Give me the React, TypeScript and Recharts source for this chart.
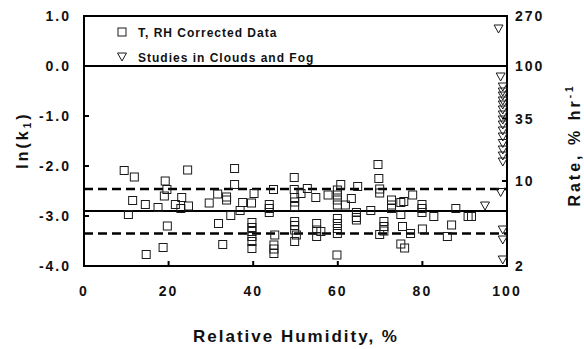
import React from 'react';
import { ScatterChart, Scatter, XAxis, YAxis, ReferenceLine, ReferenceArea } from 'recharts';

// axes
const xTicks = [0, 20, 40, 60, 80, 100];
const lnTicks = [1, 0, -1, -2, -3, -4];
const rateLabels = ['270', '100', '35', '10', '2'];
const rateTickPos = [1.0, 0.0, -1.05, -2.3, -4.0];

// T, RH corrected data (RH %, ln k1)
const corrRH = [
  9.5, 11.9, 19.2, 24.5, 19.6, 19.0, 11.5, 14.5, 17.5, 23.1, 21.6, 22.9, 24.7, 10.5, 19.7, 18.7, 14.7,
  35.6, 49.7, 35.6, 31.6, 33.7, 33.7, 40.2, 44.8, 49.7, 29.6, 37.5, 39.6, 43.8, 43.8, 43.8,
  49.8, 49.8, 49.8, 36.9, 34.7, 31.8, 39.7, 39.7, 39.7, 39.7, 39.7, 39.7,
  49.8, 49.8, 49.8, 49.8, 50.2, 45.1, 44.9, 44.9, 44.9, 32.8,
  52.8, 54.8, 51.3, 57.7, 60.7, 59.9, 59.9, 59.9, 59.9, 63.2, 61.8, 64.7,
  69.5, 69.7, 69.9, 69.9, 72.7, 72.7, 72.7, 74.9, 67.8, 64.4, 64.4, 64.4,
  55.0, 55.0, 55.0, 56.0, 59.9, 59.9, 59.9, 59.9, 70.9, 70.9, 70.9, 69.9,
  74.9, 75.8, 59.8, 74.9, 77.7, 75.6, 79.9, 79.9, 79.9, 82.7, 87.9, 90.8, 91.6,
  75.3, 77.2, 80.0, 86.9, 85.9,
];
const corrLnK = [
  -2.09, -2.22, -2.3, -2.08, -2.47, -2.6, -2.69, -2.77, -2.83, -2.63, -2.77, -2.85, -2.8, -2.97, -3.2, -3.63, -3.77,
  -2.05, -2.23, -2.37, -2.56, -2.62, -2.68, -2.55, -2.47, -2.47, -2.74, -2.73, -2.74, -2.77, -2.85, -2.93,
  -2.63, -2.72, -2.81, -2.89, -2.99, -3.15, -3.13, -3.23, -3.31, -3.41, -3.51, -3.65,
  -3.11, -3.19, -3.28, -3.51, -3.38, -3.38, -3.58, -3.66, -3.75, -3.57,
  -2.45, -2.63, -2.55, -2.58, -2.37, -2.48, -2.58, -2.68, -2.78, -2.65, -2.78, -2.41,
  -1.97, -2.25, -2.46, -2.54, -2.68, -2.78, -2.85, -2.73, -2.89, -2.93, -3.03, -3.08,
  -3.15, -3.28, -3.41, -3.31, -3.05, -3.15, -3.25, -3.35, -3.11, -3.21, -3.3, -3.37,
  -3.56, -3.64, -3.78, -2.97, -2.58, -2.71, -2.77, -2.85, -2.93, -3.01, -2.85, -3.01, -3.01,
  -3.21, -3.35, -3.26, -3.18, -3.41,
];

// studies in clouds and fog
const fogRH = [98, 98.5, 99, 99, 99, 99, 99, 99, 99, 99, 99, 99, 99, 99, 99, 99, 99, 98.5, 94.8, 99, 99, 99];
const fogLnK = [
  0.74, -0.22, -0.42, -0.52, -0.6, -0.7, -0.78, -0.88, -0.98, -1.08, -1.18, -1.3, -1.42, -1.55, -1.68, -1.8, -1.92,
  -2.53, -2.8, -3.28, -3.48, -3.88,
];

const meanLnK = -2.9;
const bandLnK = [-2.46, -3.35];

const corrData = corrRH.map((x, i) => ({ x, y: corrLnK[i] }));
const fogData = fogRH.map((x, i) => ({ x, y: fogLnK[i] }));

const FONT = '"Liberation Sans", Arial, Helvetica, sans-serif';

const Square = (p: any) => (
  <rect x={p.cx - 4} y={p.cy - 4} width={8} height={8} fill="none" stroke="#1a1a1a" strokeWidth={1} />
);

const Tri = (p: any) => (
  <path
    d={`M${p.cx - 4.5},${p.cy - 4} L${p.cx + 4.5},${p.cy - 4} L${p.cx},${p.cy + 4} Z`}
    fill="none"
    stroke="#1a1a1a"
    strokeWidth={1}
  />
);

const XTick = ({ x, y, payload }: any) => (
  <g>
    {payload.value > 0 && payload.value < 100 && (
      <line x1={x} x2={x} y1={y} y2={y - 5} stroke="#000" strokeWidth={2} />
    )}
    <text x={x} y={y + 30} textAnchor="middle" fontFamily={FONT} fontWeight="bold" fontSize={14} letterSpacing={2} fill="#111">
      {payload.value}
    </text>
  </g>
);

const LeftTick = ({ x, y, payload }: any) => (
  <g>
    <line x1={x} x2={x + 5} y1={y} y2={y} stroke="#000" strokeWidth={2} />
    <text x={x - 13} y={y + 5} textAnchor="end" fontFamily={FONT} fontWeight="bold" fontSize={14} letterSpacing={2} fill="#111">
      {Number(payload.value).toFixed(1)}
    </text>
  </g>
);

const RightTick = ({ x, y, payload }: any) => (
  <g>
    <line x1={x - 5} x2={x} y1={y} y2={y} stroke="#000" strokeWidth={2} />
    <text x={x + 8} y={y + 5} textAnchor="start" fontFamily={FONT} fontWeight="bold" fontSize={14} letterSpacing={2} fill="#111">
      {rateLabels[rateTickPos.indexOf(payload.value)]}
    </text>
  </g>
);

export default function App() {
  return (
    <div style={{ position: 'absolute', left: 0, top: 0, width: 584, height: 349, background: '#fff' }}>
      <ScatterChart width={584} height={349} margin={{ top: 16, right: 0, bottom: 53, left: 0 }}>
        <XAxis
          type="number"
          dataKey="x"
          domain={[0, 100]}
          ticks={xTicks}
          interval={0}
          height={30}
          axisLine={false}
          tickLine={false}
          tickSize={0}
          tickMargin={0}
          tick={<XTick />}
        />
        <YAxis
          yAxisId="l"
          type="number"
          dataKey="y"
          domain={[-4, 1]}
          ticks={lnTicks}
          interval={0}
          width={84}
          axisLine={false}
          tickLine={false}
          tickSize={0}
          tickMargin={0}
          tick={<LeftTick />}
          allowDataOverflow
        />
        <YAxis
          yAxisId="r"
          orientation="right"
          type="number"
          domain={[-4, 1]}
          ticks={rateTickPos}
          interval={0}
          width={77}
          axisLine={false}
          tickLine={false}
          tickSize={0}
          tickMargin={0}
          tick={<RightTick />}
          allowDataOverflow
        />
        <ReferenceArea yAxisId="l" x1={0} x2={100} y1={-4} y2={1} fill="none" stroke="#000" strokeWidth={2} />
        <ReferenceLine yAxisId="l" y={0} stroke="#000" strokeWidth={2} />
        <ReferenceLine yAxisId="l" y={meanLnK} stroke="#000" strokeWidth={2} />
        {bandLnK.map((v) => (
          <ReferenceLine key={v} yAxisId="l" y={v} stroke="#000" strokeWidth={2.5} strokeDasharray="9 5" />
        ))}
        <Scatter yAxisId="l" data={corrData} shape={<Square />} isAnimationActive={false} />
        <Scatter yAxisId="l" data={fogData} shape={<Tri />} isAnimationActive={false} />
      </ScatterChart>

      <svg width={584} height={349} style={{ position: 'absolute', left: 0, top: 0, pointerEvents: 'none' }}>
        <rect x={118} y={28} width={8} height={8} fill="none" stroke="#1a1a1a" strokeWidth={1} />
        <text x={138} y={36.5} fontFamily={FONT} fontWeight="bold" fontSize={12} letterSpacing={1} fill="#111">
          T, RH Corrected Data
        </text>
        <path d="M117.5,53 L126.5,53 L122,61 Z" fill="none" stroke="#1a1a1a" strokeWidth={1} />
        <text x={138} y={61.5} fontFamily={FONT} fontWeight="bold" fontSize={12} letterSpacing={1} fill="#111">
          Studies in Clouds and Fog
        </text>

        <text
          x={22}
          y={140}
          transform="rotate(-90, 22, 140)"
          dy={6}
          textAnchor="middle"
          fontFamily={FONT}
          fontWeight="bold"
          fontSize={16}
          letterSpacing={3}
          fill="#111"
        >
          ln(k<tspan fontSize={10} dy={3}>1</tspan><tspan dy={-3}>)</tspan>
        </text>

        <text
          x={580}
          y={145}
          transform="rotate(-90, 580, 145)"
          textAnchor="middle"
          fontFamily={FONT}
          fontWeight="bold"
          fontSize={16}
          letterSpacing={3}
          fill="#111"
        >
          Rate, % hr<tspan fontSize={10} dy={-7}>-1</tspan>
        </text>

        <text x={296} y={342} textAnchor="middle" fontFamily={FONT} fontWeight="bold" fontSize={17} letterSpacing={2} fill="#111">
          Relative Humidity, %
        </text>
      </svg>
    </div>
  );
}
